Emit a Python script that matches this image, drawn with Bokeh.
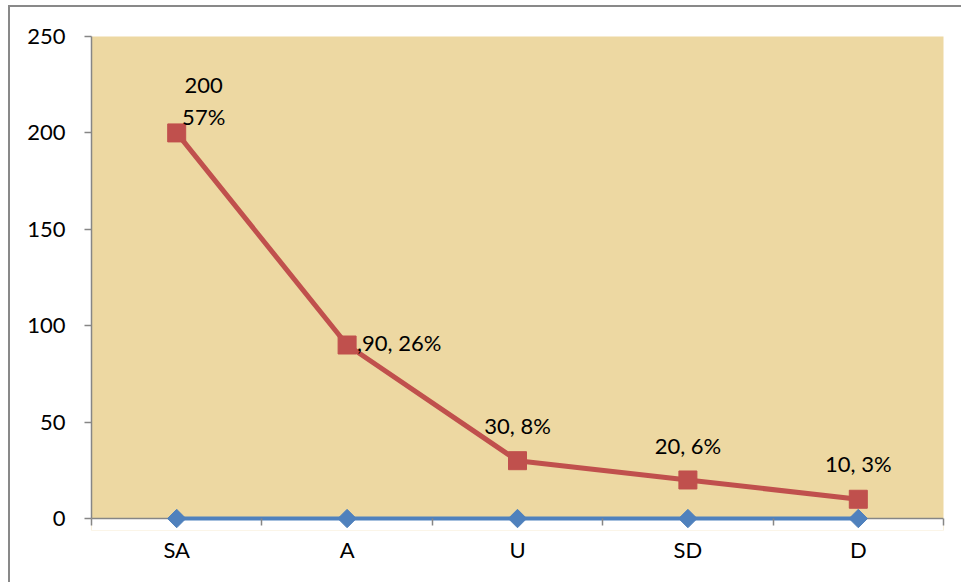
from bokeh.plotting import figure
from bokeh.models import (Range1d, FixedTicker, BoxAnnotation, Span,
                          ColumnDataSource, InlineStyleSheet)
from bokeh.core.properties import value
from bokeh.embed import file_html
from bokeh.resources import INLINE

# Survey responses per answer category
categories = ["SA", "A", "U", "SD", "D"]
counts = [200, 90, 30, 20, 10]
percents = [57, 26, 8, 6, 3]
baseline = [0, 0, 0, 0, 0]
y_ticks = [0, 50, 100, 150, 200, 250]
label_formats = ["{v}\n{p}%", ",{v}, {p}%", "{v}, {p}%", "{v}, {p}%", "{v}, {p}%"]

FONT = "Lato"
RED = "#C0504D"
BLUE = "#4F81BD"
AXIS_GRAY = "#868686"
PAPER = "#EDD8A2"

xs = list(range(1, len(categories) + 1))
labels = [f.format(v=v, p=pc) for f, v, pc in zip(label_formats, counts, percents)]

# a little room below zero so the baseline markers are not cut off
y_pad = 6.2

p = figure(
    width=961, height=582,
    x_range=Range1d(0.5, len(categories) + 0.5),
    y_range=Range1d(y_ticks[0] - y_pad, y_ticks[-1]),
    output_backend="svg", toolbar_location=None,
    min_border_left=91, min_border_right=18,
    min_border_top=36, min_border_bottom=52,
)
p.background_fill_color = PAPER
p.border_fill_color = "white"
p.outline_line_color = None
p.grid.visible = False

# white strip below the zero line, and the horizontal axis line under the glyphs
p.add_layout(BoxAnnotation(top=0, bottom=y_ticks[0] - 10 * y_pad,
                           fill_color="white", fill_alpha=1,
                           line_alpha=0, level="underlay"))
p.add_layout(Span(location=0, dimension="width", line_color=AXIS_GRAY,
                  line_width=1.5, level="underlay"))

# category axis: labels at centres, tick marks at category boundaries,
# the boundary ticks hang just below the zero line
xa = p.xaxis[0]
xa.ticker = FixedTicker(ticks=xs, minor_ticks=[x - 0.5 for x in xs] + [xs[-1] + 0.5])
xa.major_label_overrides = {x: c for x, c in zip(xs, categories)}
xa.major_tick_out = 0
xa.major_tick_in = 0
xa.minor_tick_in = 12
xa.minor_tick_out = -5
xa.minor_tick_line_color = AXIS_GRAY
xa.minor_tick_line_width = 1.5
xa.axis_line_color = None
xa.major_label_standoff = 5

ya = p.yaxis[0]
ya.bounds = (y_ticks[0], y_ticks[-1])
ya.ticker = FixedTicker(ticks=y_ticks, minor_ticks=[])
ya.major_tick_out = 7
ya.major_tick_in = 0
ya.major_tick_line_color = AXIS_GRAY
ya.major_tick_line_width = 1.5
ya.axis_line_color = AXIS_GRAY
ya.axis_line_width = 1.5
ya.major_label_standoff = 19

for ax in (xa, ya):
    ax.major_label_text_font = FONT
    ax.major_label_text_font_size = "22px"
    ax.major_label_text_color = "black"

# zero baseline series
p.line(xs, baseline, line_color=BLUE, line_width=4)
p.scatter(xs, baseline, marker="square", angle=0.785398, size=13,
          fill_color=BLUE, line_color=BLUE)

# response counts
p.line(xs, counts, line_color=RED, line_width=5)
p.scatter(xs, counts, marker="square", size=18, fill_color=RED, line_color=RED)

# data labels
src = dict(x=xs, y=counts, text=labels,
           dx=[27, 10, 0, 0, 0], dy=[-32, -3, -35, -34, -36])
for idx, align in (([0, 2, 3, 4], "center"), ([1], "left")):
    sub = ColumnDataSource({k: [src[k][i] for i in idx] for k in src})
    p.text(x="x", y="y", text="text", x_offset="dx", y_offset="dy", source=sub,
           text_align=align, text_baseline="middle",
           text_font=value(FONT), text_font_size="22px", text_color="black",
           text_line_height=1.18)

# chart-area border: only its top and left edges fall inside the page
p.styles = {"position": "relative"}
p.stylesheets = [InlineStyleSheet(css="""
:host::after {
  content: "";
  position: absolute;
  left: 8px; top: 5px; right: 0; bottom: 0;
  border-top: 2px solid #898989;
  border-left: 2px solid #898989;
  pointer-events: none;
}
""")]

open("out.html", "w").write(file_html(p, INLINE))
